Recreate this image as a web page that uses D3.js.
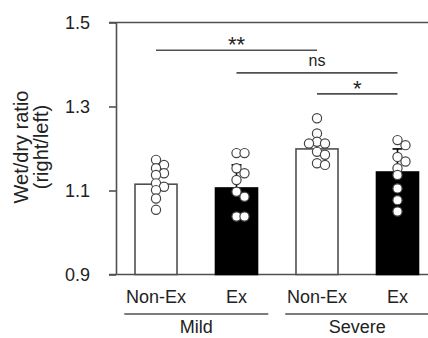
<!DOCTYPE html>
<html>
<head>
<meta charset="utf-8">
<script src="https://cdn.jsdelivr.net/npm/d3@7"></script>
<style>
  body { margin: 0; background: #fff; }
  text { font-family: "Liberation Sans", Arial, sans-serif; fill: #222; }
</style>
</head>
<body>
<div id="main"></div>
<script>
// data
const groups = ['Mild', 'Severe'];
const conditions = ['Non-Ex', 'Ex', 'Non-Ex', 'Ex'];
const barGroup = [0, 0, 1, 1];
const barMeans = [1.115, 1.106, 1.199, 1.144];
const barSD = [0.036, 0.055, 0.034, 0.055];
const dotsNonExMild = [1.173, 1.161, 1.153, 1.141, 1.137, 1.117, 1.109, 1.101, 1.081, 1.054];
const dotsExMild = [1.189, 1.189, 1.153, 1.141, 1.125, 1.097, 1.085, 1.038, 1.038];
const dotsNonExSevere = [1.272, 1.236, 1.216, 1.212, 1.212, 1.192, 1.185, 1.165, 1.161];
const dotsExSevere = [1.220, 1.208, 1.180, 1.169, 1.153, 1.137, 1.105, 1.077, 1.050];
const yTicks = [0.9, 1.1, 1.3, 1.5];
const sigPairs = [[0, 2], [1, 3], [2, 3]];
const sigLevels = [1.434, 1.380, 1.330];
const sigLabels = ['**', 'ns', '*'];

const width = 428;
const height = 338;
const axisX = 116;

const svg = d3.select('#main').append('svg')
  .attr('width', width)
  .attr('height', height);

const y = d3.scaleLinear().domain([0.9, 1.5]).range([274.5, 22.5]);
const x = d3.scaleBand()
  .domain(d3.range(4))
  .range([axisX, 437.5])
  .paddingInner(0.478)
  .paddingOuter(0.236);
const cx = i => x(i) + x.bandwidth() / 2;

const lineColor = '#505050';

// top and bottom frame lines
[1.5, 0.9].forEach(v => {
  svg.append('line')
    .attr('x1', axisX - 7).attr('x2', 437.5)
    .attr('y1', y(v)).attr('y2', y(v))
    .attr('stroke', lineColor).attr('stroke-width', 1.6);
});

// y axis
const yAxis = svg.append('g')
  .attr('transform', `translate(${axisX},0)`)
  .call(d3.axisLeft(y).tickValues(yTicks).tickFormat(d3.format('.1f'))
    .tickSize(7).tickSizeOuter(0).tickPadding(19));
yAxis.selectAll('path, line').attr('stroke', lineColor).attr('stroke-width', 1.6);
yAxis.selectAll('text')
  .style('font-family', '"Liberation Sans", Arial, sans-serif')
  .style('font-size', '18px').attr('fill', '#222');

// y label
const yl = svg.append('text')
  .attr('transform', 'translate(0,147) rotate(-90)')
  .attr('text-anchor', 'middle')
  .style('font-size', '20px');
yl.append('tspan').attr('x', 0).attr('y', 28).text('Wet/dry ratio');
yl.append('tspan').attr('x', 0).attr('y', 48).text('(right/left)');

// bars
svg.selectAll('.bar')
  .data(barMeans)
  .enter().append('rect')
  .attr('class', 'bar')
  .attr('x', (d, i) => x(i))
  .attr('width', x.bandwidth())
  .attr('y', d => y(d))
  .attr('height', d => y(0.9) - y(d))
  .attr('fill', (d, i) => (i % 2 ? '#000' : '#fff'))
  .attr('stroke', (d, i) => (i % 2 ? '#000' : lineColor))
  .attr('stroke-width', 1.6);

// error bars (upper only)
barMeans.forEach((m, i) => {
  const col = i % 2 ? '#000' : lineColor;
  svg.append('line')
    .attr('x1', cx(i)).attr('x2', cx(i))
    .attr('y1', y(m)).attr('y2', y(m + barSD[i]))
    .attr('stroke', col).attr('stroke-width', 1.6);
  svg.append('line')
    .attr('x1', cx(i) - 5).attr('x2', cx(i) + 5)
    .attr('y1', y(m + barSD[i])).attr('y2', y(m + barSD[i]))
    .attr('stroke', col).attr('stroke-width', 1.6);
});

// dots, spread sideways so they don't fully overlap
const r = 4.6;
[dotsNonExMild, dotsExMild, dotsNonExSevere, dotsExSevere].forEach((vals, i) => {
  const placed = [];
  vals.forEach(v => {
    const py = y(v);
    const offs = [0, 4, -4, 8, -8, 12, -12];
    let px = cx(i);
    for (const o of offs) {
      const tx = cx(i) + o;
      if (placed.every(p => Math.hypot(p[0] - tx, p[1] - py) > 6.5)) { px = tx; break; }
    }
    placed.push([px, py]);
  });
  svg.selectAll(null)
    .data(placed)
    .enter().append('circle')
    .attr('cx', d => d[0])
    .attr('cy', d => d[1])
    .attr('r', r)
    .attr('fill', '#fff')
    .attr('stroke', '#444')
    .attr('stroke-width', 1.2);
});

// significance brackets
sigPairs.forEach((p, k) => {
  const yy = y(sigLevels[k]);
  svg.append('line')
    .attr('x1', cx(p[0])).attr('x2', cx(p[1]))
    .attr('y1', yy).attr('y2', yy)
    .attr('stroke', lineColor).attr('stroke-width', 1.6);
  svg.append('text')
    .attr('x', (cx(p[0]) + cx(p[1])) / 2)
    .attr('y', sigLabels[k] === 'ns' ? yy - 7 : yy + 2)
    .attr('text-anchor', 'middle')
    .style('font-size', sigLabels[k] === 'ns' ? '16px' : '22px')
    .attr('fill', '#444')
    .text(sigLabels[k]);
});

// condition labels
svg.selectAll('.cond')
  .data(conditions)
  .enter().append('text')
  .attr('class', 'cond')
  .attr('x', (d, i) => cx(i))
  .attr('y', 303)
  .attr('text-anchor', 'middle')
  .style('font-size', '18px')
  .text(d => d);

// group lines and labels
groups.forEach((g, k) => {
  const idx = d3.range(4).filter(i => barGroup[i] === k);
  const mid = d3.mean(idx, i => cx(i));
  svg.append('line')
    .attr('x1', mid - 72).attr('x2', mid + 72)
    .attr('y1', 314).attr('y2', 314)
    .attr('stroke', lineColor).attr('stroke-width', 1.6);
  svg.append('text')
    .attr('x', mid).attr('y', 333)
    .attr('text-anchor', 'middle')
    .style('font-size', '18px')
    .text(g);
});
</script>
</body>
</html>
